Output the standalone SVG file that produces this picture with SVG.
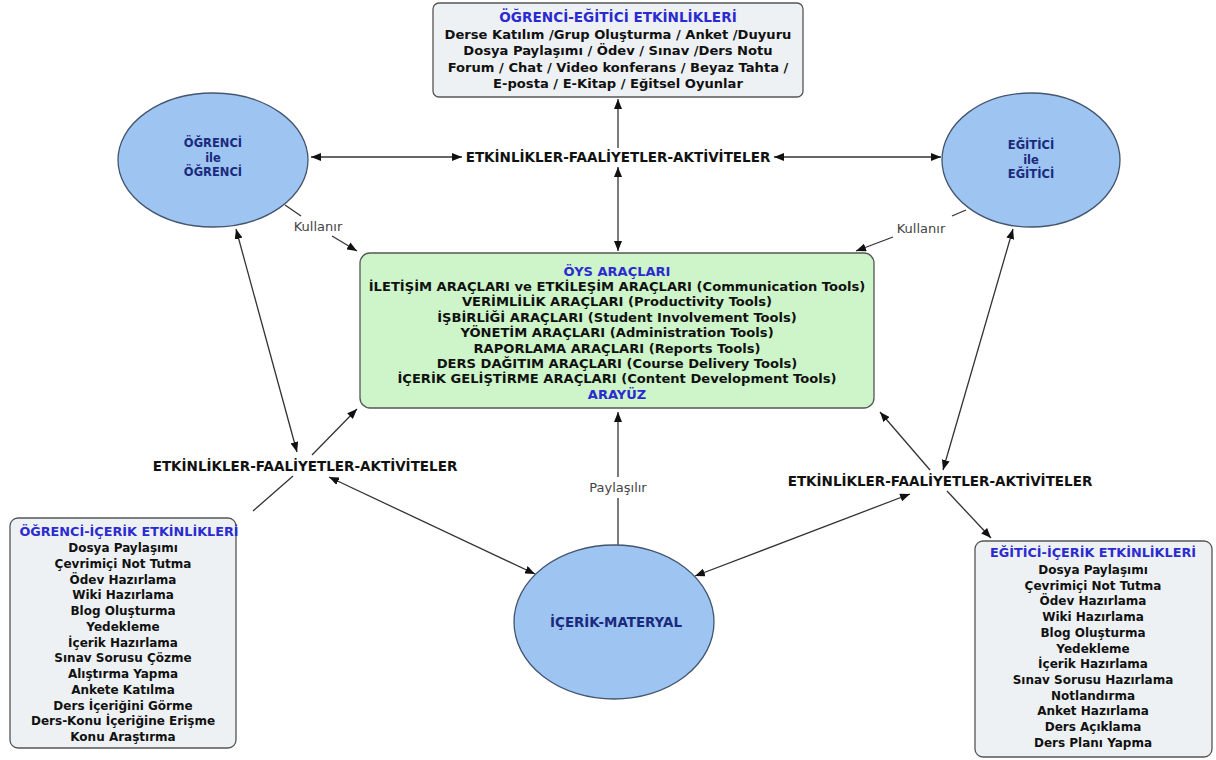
<svg xmlns="http://www.w3.org/2000/svg" width="1216" height="760" viewBox="0 0 1216 760">
<style>
text{font-family:"DejaVu Sans","Verdana",sans-serif;text-anchor:middle}
.b{font-weight:bold;font-size:13.1px;fill:#111}
.l{font-weight:bold;font-size:12px;fill:#111}
.t{font-weight:bold;font-size:12.8px;fill:#2b2bd0}
.e{font-weight:bold;font-size:11.5px;fill:#1a2a7c}
.lk{font-weight:bold;font-size:13.5px;fill:#111}
.g{font-size:13px;fill:#444}
.box{fill:#eef1f4;stroke:#555;stroke-width:1.3}
.grn{fill:#cdf5c9;stroke:#555;stroke-width:1.3}
.ell{fill:#9ec4f2;stroke:#44556e;stroke-width:1.3}
.c line{stroke:#333;stroke-width:1.3}
</style>
<defs>
<marker id="a" viewBox="0 0 10 8" refX="10" refY="4" markerWidth="10" markerHeight="8" markerUnits="userSpaceOnUse" orient="auto-start-reverse"><path d="M0,0 L10,4 L0,8 z" fill="#111"/></marker>
</defs>
<rect width="1216" height="760" fill="#fff"/>
<g class="c" id="connectors">
<line x1="618" y1="148" x2="618" y2="99" marker-end="url(#a)"/>
<line x1="618" y1="167" x2="618" y2="251" marker-start="url(#a)" marker-end="url(#a)"/>
<line x1="462" y1="157" x2="311" y2="157" marker-start="url(#a)" marker-end="url(#a)"/>
<line x1="774" y1="157" x2="941" y2="157" marker-start="url(#a)" marker-end="url(#a)"/>
<line x1="285" y1="205" x2="301" y2="216"/>
<line x1="332" y1="236" x2="357" y2="251" marker-end="url(#a)"/>
<line x1="966" y1="210" x2="952" y2="216"/>
<line x1="893" y1="237" x2="856" y2="251" marker-end="url(#a)"/>
<line x1="297" y1="452" x2="236" y2="229" marker-start="url(#a)" marker-end="url(#a)"/>
<line x1="312" y1="455" x2="357" y2="409" marker-end="url(#a)"/>
<line x1="293" y1="476" x2="253" y2="511"/>
<line x1="329" y1="477" x2="535" y2="574" marker-start="url(#a)" marker-end="url(#a)"/>
<line x1="943" y1="470" x2="1013" y2="229" marker-start="url(#a)" marker-end="url(#a)"/>
<line x1="930" y1="470" x2="880" y2="412" marker-end="url(#a)"/>
<line x1="947" y1="491" x2="991" y2="538" marker-end="url(#a)"/>
<line x1="910" y1="494" x2="695" y2="576" marker-start="url(#a)" marker-end="url(#a)"/>
<line x1="618" y1="545" x2="618" y2="498"/>
<line x1="618" y1="477" x2="618" y2="412" marker-end="url(#a)"/>
</g>
<g id="link-labels">
<text class="lk" x="618" y="162">ETKİNLİKLER-FAALİYETLER-AKTİVİTELER</text>
<text class="lk" x="305" y="471">ETKİNLİKLER-FAALİYETLER-AKTİVİTELER</text>
<text class="lk" x="940" y="486">ETKİNLİKLER-FAALİYETLER-AKTİVİTELER</text>
<text class="g" x="318" y="231">Kullanır</text>
<text class="g" x="921" y="233">Kullanır</text>
<text class="g" x="618" y="492">Paylaşılır</text>
</g>
<g id="ogrenci-egitici">
<rect class="box" x="433" y="3" width="370" height="94" rx="6"/>
<text class="t" x="618" y="21.5" style="font-size:13.6px">ÖĞRENCİ-EĞİTİCİ ETKİNLİKLERİ</text>
<text class="b" x="618" y="38.5">Derse Katılım /Grup Oluşturma / Anket /Duyuru</text>
<text class="b" x="618" y="55">Dosya Paylaşımı / Ödev / Sınav /Ders Notu</text>
<text class="b" x="618" y="71.5">Forum / Chat / Video konferans / Beyaz Tahta /</text>
<text class="b" x="618" y="88">E-posta / E-Kitap / Eğitsel Oyunlar</text>
</g>
<g id="ogrenci">
<ellipse class="ell" cx="213" cy="160" rx="95" ry="67"/>
<text class="e" x="213" y="147">ÖĞRENCİ</text>
<text class="e" x="213" y="162">ile</text>
<text class="e" x="213" y="176">ÖĞRENCİ</text>
</g>
<g id="egitici">
<ellipse class="ell" cx="1031" cy="160" rx="89" ry="67"/>
<text class="e" x="1031" y="149">EĞİTİCİ</text>
<text class="e" x="1031" y="164">ile</text>
<text class="e" x="1031" y="178">EĞİTİCİ</text>
</g>
<g id="oys">
<rect class="grn" x="360" y="253" width="514" height="155" rx="10"/>
<text class="t" x="617" y="275.5" style="font-size:13px">ÖYS ARAÇLARI</text>
<text class="b" x="617" y="290.9">İLETİŞİM ARAÇLARI ve ETKİLEŞİM ARAÇLARI (Communication Tools)</text>
<text class="b" x="617" y="306.3">VERİMLİLİK ARAÇLARI (Productivity Tools)</text>
<text class="b" x="617" y="321.7">İŞBİRLİĞİ ARAÇLARI (Student Involvement Tools)</text>
<text class="b" x="617" y="337.1">YÖNETİM ARAÇLARI (Administration Tools)</text>
<text class="b" x="617" y="352.5">RAPORLAMA ARAÇLARI (Reports Tools)</text>
<text class="b" x="617" y="367.9">DERS DAĞITIM ARAÇLARI (Course Delivery Tools)</text>
<text class="b" x="617" y="383.3">İÇERİK GELİŞTİRME ARAÇLARI (Content Development Tools)</text>
<text class="t" x="617" y="398.7" style="font-size:13px">ARAYÜZ</text>
</g>
<g id="icerik-materyal">
<ellipse class="ell" cx="614" cy="622" rx="100" ry="77"/>
<text class="t" x="616" y="627" style="fill:#1a2a7c;font-size:13.4px">İÇERİK-MATERYAL</text>
</g>
<g id="ogrenci-icerik">
<rect class="box" x="10" y="518" width="226" height="230" rx="8"/>
<text class="t" x="129" y="536">ÖĞRENCİ-İÇERİK ETKİNLİKLERİ</text>
<text class="l" x="123" y="552">Dosya Paylaşımı</text>
<text class="l" x="123" y="567.75">Çevrimiçi Not Tutma</text>
<text class="l" x="123" y="583.5">Ödev Hazırlama</text>
<text class="l" x="123" y="599.25">Wiki Hazırlama</text>
<text class="l" x="123" y="615">Blog Oluşturma</text>
<text class="l" x="123" y="630.75">Yedekleme</text>
<text class="l" x="123" y="646.5">İçerik Hazırlama</text>
<text class="l" x="123" y="662.25">Sınav Sorusu Çözme</text>
<text class="l" x="123" y="678">Alıştırma Yapma</text>
<text class="l" x="123" y="693.75">Ankete Katılma</text>
<text class="l" x="123" y="709.5">Ders İçeriğini Görme</text>
<text class="l" x="123" y="725.25">Ders-Konu İçeriğine Erişme</text>
<text class="l" x="123" y="741">Konu Araştırma</text>
</g>
<g id="egitici-icerik">
<rect class="box" x="975" y="541" width="237" height="216" rx="8"/>
<text class="t" x="1093" y="557">EĞİTİCİ-İÇERİK ETKİNLİKLERİ</text>
<text class="l" x="1093" y="574">Dosya Paylaşımı</text>
<text class="l" x="1093" y="589.7">Çevrimiçi Not Tutma</text>
<text class="l" x="1093" y="605.4">Ödev Hazırlama</text>
<text class="l" x="1093" y="621.1">Wiki Hazırlama</text>
<text class="l" x="1093" y="636.8">Blog Oluşturma</text>
<text class="l" x="1093" y="652.5">Yedekleme</text>
<text class="l" x="1093" y="668.2">İçerik Hazırlama</text>
<text class="l" x="1093" y="683.9">Sınav Sorusu Hazırlama</text>
<text class="l" x="1093" y="699.6">Notlandırma</text>
<text class="l" x="1093" y="715.3">Anket Hazırlama</text>
<text class="l" x="1093" y="731">Ders Açıklama</text>
<text class="l" x="1093" y="746.7">Ders Planı Yapma</text>
</g>
</svg>
